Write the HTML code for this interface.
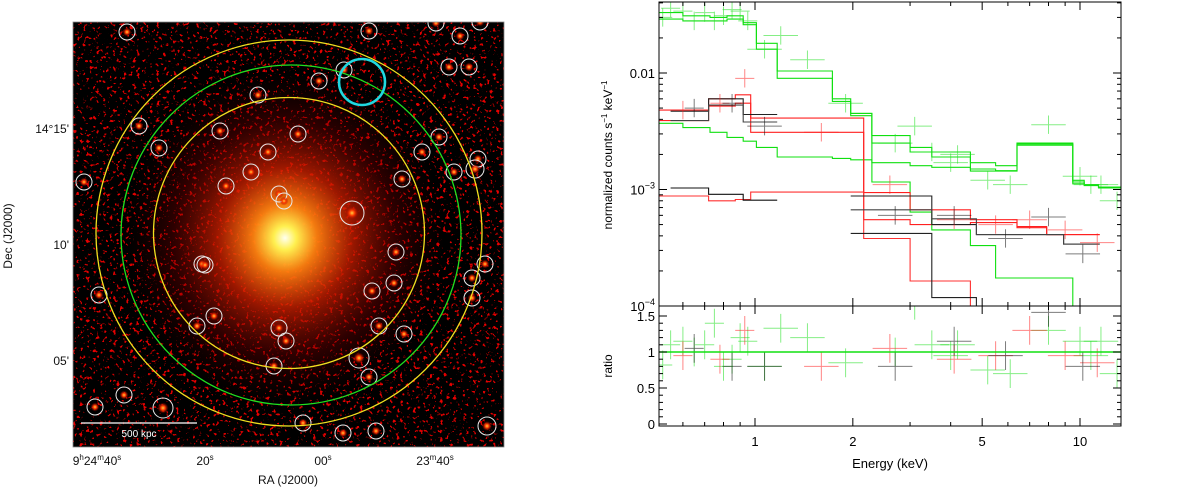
<!DOCTYPE html>
<html><head><meta charset="utf-8">
<style>
html,body{margin:0;padding:0;background:#fff;width:1200px;height:489px;overflow:hidden;font-family:"Liberation Sans",sans-serif;}
svg{position:absolute;left:0;top:0;}
</style></head>
<body>
<svg id="left" width="600" height="489" viewBox="0 0 600 489">
  <defs>
    <filter id="speck" x="0" y="0" width="100%" height="100%">
      <feTurbulence type="fractalNoise" baseFrequency="0.3" numOctaves="2" seed="7" result="n"/>
      <feColorMatrix in="n" type="matrix" values="12 0 0 0 -7.6  0 0 0 0 0  0 0 0 0 0  0 0 0 0 1"/>
    </filter>
    <radialGradient id="glow" cx="0.5" cy="0.5" r="0.5">
      <stop offset="0" stop-color="#fffff0"/>
      <stop offset="0.07" stop-color="#fff050" stop-opacity="1"/>
      <stop offset="0.2" stop-color="#ff8010" stop-opacity="0.95"/>
      <stop offset="0.42" stop-color="#d02000" stop-opacity="0.75"/>
      <stop offset="0.7" stop-color="#700000" stop-opacity="0.4"/>
      <stop offset="1" stop-color="#300000" stop-opacity="0"/>
    </radialGradient>
    <radialGradient id="src" cx="0.5" cy="0.5" r="0.5">
      <stop offset="0" stop-color="#ffd040"/>
      <stop offset="0.4" stop-color="#ff3a00"/>
      <stop offset="1" stop-color="#a00000" stop-opacity="0"/>
    </radialGradient>
    <clipPath id="imgclip"><rect x="73" y="22" width="431" height="425"/></clipPath>
  </defs>
  <g clip-path="url(#imgclip)">
    <rect x="73" y="22" width="431" height="425" fill="#060000"/>
    <rect x="73" y="22" width="431" height="425" filter="url(#speck)" opacity="0.9"/>
    <ellipse cx="285" cy="238" rx="160" ry="168" fill="url(#glow)"/>
    <g id="srcs"></g>
    <g fill="none" stroke-width="1.3">
      <circle cx="289" cy="233" r="193" stroke="#f0e020"/>
      <circle cx="291" cy="235" r="170" stroke="#20e020"/>
      <circle cx="289" cy="233" r="135.5" stroke="#f0e020"/>
      <circle cx="362" cy="82" r="23" stroke="#20d8e0" stroke-width="2.6"/>
    </g>
    <line x1="81" y1="423" x2="197" y2="423" stroke="#fff" stroke-width="1.3"/>
    <text x="139" y="437" fill="#fff" font-size="10" text-anchor="middle">500 kpc</text>
  </g>
  <rect x="73" y="22" width="431" height="425" fill="none" stroke="#888" stroke-width="0.8"/>
  <g font-size="12" fill="#111">
    <text x="69" y="133" text-anchor="end">14°15'</text>
    <text x="69" y="249" text-anchor="end">10'</text>
    <text x="69" y="365" text-anchor="end">05'</text>
    <text x="97" y="465" text-anchor="middle">9<tspan font-size="8" dy="-5">h</tspan><tspan dy="5">24</tspan><tspan font-size="8" dy="-5">m</tspan><tspan dy="5">40</tspan><tspan font-size="8" dy="-5">s</tspan></text>
    <text x="205" y="465" text-anchor="middle">20<tspan font-size="8" dy="-5">s</tspan></text>
    <text x="323" y="465" text-anchor="middle">00<tspan font-size="8" dy="-5">s</tspan></text>
    <text x="435" y="465" text-anchor="middle">23<tspan font-size="8" dy="-5">m</tspan><tspan dy="5">40</tspan><tspan font-size="8" dy="-5">s</tspan></text>
    <text x="288" y="484" text-anchor="middle">RA (J2000)</text>
    <text transform="translate(12,236) rotate(-90)" text-anchor="middle">Dec (J2000)</text>
  </g>
</svg>

<svg id="right" width="1200" height="489" viewBox="0 0 1200 489" style="pointer-events:none"></svg>

<script>
// ---------- left: point sources ----------
const srcX=[127,369,436,460,480,449,469,344,319,258,139,220,298,159,268,439,422,478,475,454,84,251,226,279,284,352,402,396,202,205,485,472,394,372,99,472,214,197,279,379,404,286,359,274,369,124,95,163,303,343,376,487];
const srcY=[32,31,23,36,22,67,67,70,81,95,126,131,134,148,152,137,152,159,169,172,182,172,186,194,201,213,179,252,264,265,264,278,283,291,295,298,316,326,328,326,334,341,358,366,377,395,407,408,423,433,431,426];
const srcR=[8,8,8,8,8,8,8,8,8,8,8,8,8,8,8,8,8,8,9,8,8,8,8,8,8,12,8,8,8,8,8,8,8,8,8,8,8,8,8,8,8,8,10,8,8,8,8,10,8,8,8,9];
const sg=document.getElementById('srcs');
const NS='http://www.w3.org/2000/svg';
for(let i=0;i<srcX.length;i++){
  const b=document.createElementNS(NS,'circle');
  b.setAttribute('cx',srcX[i]);b.setAttribute('cy',srcY[i]);b.setAttribute('r',srcR[i]*0.55);
  b.setAttribute('fill','url(#src)');
  
  
  sg.appendChild(b);
  const c=document.createElementNS(NS,'circle');
  c.setAttribute('cx',srcX[i]);c.setAttribute('cy',srcY[i]);c.setAttribute('r',srcR[i]);
  c.setAttribute('fill','none');c.setAttribute('stroke','#e8e8e8');c.setAttribute('stroke-width','1');
  
  
  sg.appendChild(c);
}

// ---------- right: spectrum data ----------
const xTicks=[1,2,5,10];
const yTickVals=[0.01,0.001,0.0001];
const rTickVals=[0,0.5,1,1.5];

const gEdges=[0.507,0.6,0.727,0.82,0.92,1.01,1.17,1.73,1.97,2.29,3.0,3.5,4.6,5.5,6.4,9.5,10.3,11.4,13.4];
const gTot1=[0.033,0.031,0.030,0.031,0.027,0.018,0.0104,0.006,0.0045,0.0029,0.0023,0.0021,0.0017,0.0016,0.0025,0.00116,0.0011,0.00105];
const gTot2=[0.029,0.028,0.028,0.029,0.026,0.016,0.0090,0.0057,0.0043,0.0025,0.0021,0.0019,0.0015,0.00145,0.0024,0.00112,0.00108,0.00103];
const gPow=[0.0037,0.0034,0.0031,0.0028,0.0026,0.0023,0.0019,0.00185,0.0018,0.0017,0.0016,0.00155,0.00144,0.00144,0.00246,0.0012,0.0011,0.00105];
const gThEdges=[1.97,2.29,3.0,3.5,4.6,5.5,9.5];
const gTh=[0.0045,0.00116,0.00064,0.00045,0.00033,0.000174];

const rEdges=[0.507,0.72,0.87,0.97,2.16,3.0,4.6,6.4,7.9,11.5];
const rTot1=[0.0048,0.006,0.0065,0.0041,0.00094,0.00067,0.00055,0.00048,0.00041];
const rTot2=[0.0039,0.0052,0.0055,0.0031,0.00055,0.0005,0.00052,0.00047,0.00041];
const rThEdges=[0.507,0.72,0.87,0.97,2.16,3.0,4.6];
const rTh=[0.00088,0.0008,0.00082,0.00095,0.00038,0.000164];

const kEdgesA=[0.55,0.72,0.92,1.17];
const kTot1A=[0.0047,0.006,0.0044];
const kTot2A=[0.0039,0.0053,0.0038];
const kThA=[0.00103,0.00091,0.00081];
const kEdgesB=[1.97,3.5,4.8,7.2,8.9,11.5];
const kTot1B=[0.00088,0.0005,0.00041,0.00041,0.00034];
const kTot2B=[0.00067,0.00056,0.00041,0.00041,0.00034];
const kThEdgesB=[1.97,3.5,4.8];
const kThB=[0.00042,0.000118];

const gE=[0.52,0.55,0.6,0.65,0.7,0.75,0.8,0.85,0.9,0.95,1.07,1.2,1.45,1.9,2.7,3.1,3.5,4.0,4.2,5.2,6.1,8.0,10.0,10.8,11.6,13.0];
const gV=[0.03,0.036,0.034,0.028,0.033,0.028,0.031,0.035,0.034,0.028,0.016,0.021,0.013,0.0055,0.0025,0.0035,0.0021,0.0017,0.002,0.0012,0.0011,0.0036,0.0013,0.0011,0.0011,0.0008];
const gR=[0.82,1.1,1.15,1.0,1.1,1.4,0.8,0.9,1.2,1.15,0.8,1.33,1.2,0.85,1.0,1.65,1.1,0.95,1.1,0.75,0.7,1.3,1.15,0.95,1.15,0.7];
const rE=[0.6,0.78,0.93,1.6,2.6,4.1,5.5,7.0,9.0,11.3];
const rV=[0.0048,0.0055,0.009,0.0031,0.0011,0.00055,0.0005,0.00055,0.00045,0.00035];
const rR=[0.95,0.9,1.3,0.8,1.05,0.9,0.95,1.3,0.95,0.85];
const kE=[0.65,0.85,1.07,2.7,4.1,5.9,8.0,10.2];
const kV=[0.005,0.0055,0.0035,0.0006,0.0006,0.00038,0.00058,0.00028];
const kR=[1.05,0.8,0.8,0.8,1.15,0.95,1.55,0.8];

// ---------- axes ----------
const L=659,R=1121,T=2,MID=306,B=426;
const X=e=>755+325*Math.log10(e);
const Y=v=>73-116.5*(Math.log10(v)+2);
const YR=r=>424-72*r;
const svg=document.getElementById('right');
function el(tag,attrs,parent){const e=document.createElementNS(NS,tag);for(const k in attrs)e.setAttribute(k,attrs[k]);(parent||svg).appendChild(e);return e;}

const cu=el('clipPath',{id:'cu'});el('rect',{x:L,y:T,width:R-L,height:MID-T},cu);
const cl=el('clipPath',{id:'cl'});el('rect',{x:L,y:MID,width:R-L,height:B-MID},cl);
const gu=el('g',{'clip-path':'url(#cu)'});


const gl=el('g',{'clip-path':'url(#cl)'});



function steps(edges,vals,color,name,w){
  let d='';
  for(let i=0;i<vals.length;i++){
    const y=Y(vals[i]);
    d+=(i===0?'M':'L')+X(edges[i]).toFixed(1)+','+y.toFixed(1)+'L'+X(edges[i+1]).toFixed(1)+','+y.toFixed(1);
  }
  const p=el('path',{d:d,fill:'none',stroke:color,'stroke-width':w||1.1},gu);
  
  
}
steps(gEdges,gTot1,'#10e010','green-total-model-1');
steps(gEdges,gTot2,'#10e010','green-total-model-2');
steps(gEdges,gPow,'#10e010','green-powerlaw-model');
steps(gThEdges.concat([9.5]),gTh.concat([0.00001]),'#10e010','green-thermal-model');
steps(rEdges,rTot1,'#ff2020','red-total-model-1');
steps(rEdges,rTot2,'#ff2020','red-total-model-2');
steps(rThEdges.concat([4.6]),rTh.concat([0.00001]),'#ff3030','red-thermal-model');
steps(kEdgesA,kTot1A,'#222','black-total-model-1');
steps(kEdgesA,kTot2A,'#444','black-total-model-2');
steps(kEdgesA,kThA,'#111','black-thermal-model');
steps(kEdgesB,kTot1B,'#222','black-total-model-high-1');
steps(kEdgesB,kTot2B,'#444','black-total-model-high-2');
steps(kThEdgesB.concat([4.8]),kThB.concat([0.00001]),'#222','black-thermal-model-high');

function crosses(E,V,Rt,color,name){
  for(let i=0;i<E.length;i++){
    const hw=E[i]<1?1.07:1.13;
    const x=X(E[i]),x1=X(E[i]/hw),x2=X(E[i]*hw);
    const y=Y(V[i]),y1=Y(V[i]*1.2),y2=Y(V[i]/1.2);
    const c=el('path',{d:`M${x1},${y}H${x2}M${x},${y1}V${y2}`,stroke:color,'stroke-width':1,fill:'none',opacity:0.55},gu);
    
    
    const yr=YR(Rt[i]),yr1=YR(Rt[i]+0.2),yr2=YR(Rt[i]-0.2);
    const r=el('path',{d:`M${x1},${yr}H${x2}M${x},${yr1}V${yr2}`,stroke:color,'stroke-width':1,fill:'none',opacity:0.55},gl);
    
    
  }
}
crosses(gE,gV,gR,'#20e020','green');
crosses(rE,rV,rR,'#ff2020','red');
crosses(kE,kV,kR,'#111','black');

const one=el('line',{x1:L,x2:R,y1:YR(1),y2:YR(1),stroke:'#10e010','stroke-width':1.5},gl);



const f1=el('rect',{x:L,y:T,width:R-L,height:B-T,fill:'none',stroke:'#000','stroke-width':1});


el('line',{x1:L,x2:R,y1:MID,y2:MID,stroke:'#000','stroke-width':1});

const minors=[0.6,0.7,0.8,0.9,1,2,3,4,5,6,7,8,9,10];
for(const m of minors){
  const x=X(m),big=xTicks.includes(m)?8:4;
  for(const yy of [T,MID]) el('line',{x1:x,x2:x,y1:yy,y2:yy+big,stroke:'#000'});
  for(const yy of [MID,B]) el('line',{x1:x,x2:x,y1:yy,y2:yy-big,stroke:'#000'});
}
for(const t of xTicks){
  const tx=el('text',{x:X(t),y:446,'font-size':13,'text-anchor':'middle',fill:'#000'});
  tx.textContent=String(t);
  
  
}
for(const dec of [0.0001,0.001,0.01]){
  for(let k=1;k<10;k++){
    const v=dec*k,y=Y(v); if(y<T||y>MID)continue;
    const w=k===1?8:4;
    el('line',{x1:L,x2:L+w,y1:y,y2:y,stroke:'#000'});
    el('line',{x1:R,x2:R-w,y1:y,y2:y,stroke:'#000'});
  }
}
const yLab=['0.01','10','10'],ySup=['','−3','−4'];
yTickVals.forEach((v,i)=>{
  const t=el('text',{x:655,y:Y(v)+5,'font-size':13,'text-anchor':'end',fill:'#000'});
  t.textContent=yLab[i];
  if(ySup[i]){const s=el('tspan',{'font-size':9,dy:-6},t);s.textContent=ySup[i];}
  
  
});
for(let r=0;r<=1.6;r+=0.1){
  const y=YR(r),w=(Math.abs(r*2-Math.round(r*2))<1e-6)?8:4;
  el('line',{x1:L,x2:L+w,y1:y,y2:y,stroke:'#000'});
  el('line',{x1:R,x2:R-w,y1:y,y2:y,stroke:'#000'});
}
rTickVals.forEach(v=>{
  const t=el('text',{x:655,y:YR(v)+5,'font-size':13,'text-anchor':'end',fill:'#000'});
  t.textContent=String(v);
  
  
});
const xt=el('text',{x:890,y:468,'font-size':13,'text-anchor':'middle',fill:'#000'});
xt.textContent='Energy (keV)';


const yt=el('text',{transform:'translate(612,155) rotate(-90)','font-size':12,'text-anchor':'middle',fill:'#000'});
yt.textContent='normalized counts s';
const s1=el('tspan',{'font-size':8,dy:-5},yt);s1.textContent='−1';
const s2=el('tspan',{dy:5},yt);s2.textContent=' keV';
const s3=el('tspan',{'font-size':8,dy:-5},yt);s3.textContent='−1';


const rt=el('text',{transform:'translate(612,366) rotate(-90)','font-size':12,'text-anchor':'middle',fill:'#000'});
rt.textContent='ratio';


</script>
</body></html>
